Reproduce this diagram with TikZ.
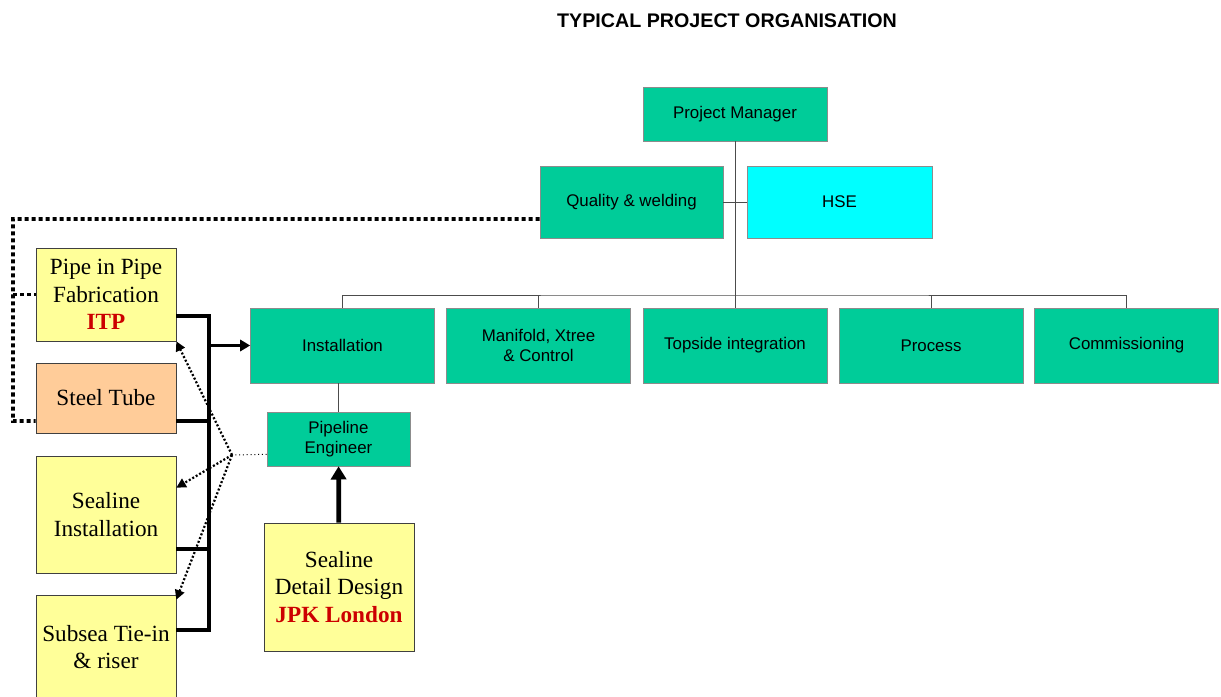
\documentclass[tikz,border=0pt]{standalone}
\usepackage{fontspec}
\setmainfont{Liberation Serif}
\setsansfont{Liberation Sans}
\usetikzlibrary{arrows.meta,calc}
\definecolor{orggreen}{HTML}{00CC99}
\definecolor{orgcyan}{HTML}{00FFFF}
\definecolor{subyellow}{HTML}{FFFF99}
\definecolor{tubeorange}{HTML}{FFCC99}
\definecolor{subred}{HTML}{CC0000}

\begin{document}
\begin{tikzpicture}[
          x=0.025cm, y=-0.025cm,
          org/.style={draw=black!45, fill=orggreen, align=center, inner sep=0pt,
                      font=\sffamily\fontsize{12}{14.4}\selectfont,
                      minimum width=4.6cm, minimum height=1.875cm},
          sub/.style={draw=black!75, fill=subyellow, align=center, inner sep=0pt,
                      font=\fontsize{16.5}{19.4}\selectfont, minimum width=3.5cm},
          tie/.style={draw=black!70, line width=0.7pt},
          feed/.style={draw=black, line width=2.8pt},
          qline/.style={draw=black, line width=2.8pt, dash pattern=on 0.1cm off 0.075cm},
          advice/.style={draw=black, line width=1.6pt, dash pattern=on 0.05cm off 0.05cm,
                         -{Triangle[length=0.24cm,width=0.24cm]}}
        ]
        \useasboundingbox (0,0) rectangle (1221,696);
        \node[font=\sffamily\bfseries\fontsize{14}{16}\selectfont] (title) at (727,21) {TYPICAL PROJECT ORGANISATION};
        \node[org, minimum height=1.35cm] (pm) at (735,114) {Project Manager};
        \node[org, minimum width=4.575cm, minimum height=1.8cm] (qual) at (631.5,202) {Quality \& welding};
        \node[org, fill=orgcyan, minimum width=4.625cm, minimum height=1.8cm] (hse) at (839.5,202) {HSE};
        \node[org] (inst) at (342.5,345.5) {Installation};
        \node[org] (mani) at (538.5,345.5) {Manifold, Xtree\\\& Control};
        \node[org] (tops) at (735,345.5) {Topside integration};
        \node[org] (proc) at (931,345.5) {Process};
        \node[org] (comm) at (1126.5,345.5) {Commissioning};
        \node[org, minimum width=3.575cm, minimum height=1.35cm] (pipeng) at (338.5,439) {Pipeline\\Engineer};
        \node[sub, minimum height=2.325cm] (pip) at (106,294.5) {Pipe in Pipe\\Fabrication\\{\bfseries\color{subred}ITP}};
        \node[sub, fill=tubeorange, minimum height=1.75cm] (steel) at (106,398) {Steel Tube};
        \node[sub, minimum height=2.925cm] (sealinst) at (106,514.5) {Sealine\\Installation};
        \node[sub, minimum height=2.6cm] (subsea) at (106,647) {Subsea Tie-in\\\& riser};
        \node[sub, minimum width=3.75cm, minimum height=3.2cm] (design) at (339,587) {Sealine\\Detail Design\\{\bfseries\color{subred}JPK London}};
        \coordinate (bus) at (735,295);
        \coordinate (bustop) at (209,316);
        \coordinate (busbot) at (209,630);
        \coordinate (qcorner) at (13,219);
        \coordinate (qbottom) at (13,421);
        \coordinate (hub) at (232,455);
        \draw[tie] (pm) -- (tops);
        \draw[tie] (qual) -- (hse);
        \draw[tie] (inst.north) |- (bus) -| (comm.north);
        \draw[tie] (mani.north) -- (mani.north |- bus);
        \draw[tie] (proc.north) -- (proc.north |- bus);
        \draw[tie] (inst.south -| pipeng.north) -- (pipeng.north);
        \draw[feed, line width=3.4pt, -{Triangle[length=0.33cm,width=0.38cm]}] (design) -- (pipeng);
        \draw[feed] (bustop -| pip.east) -- (bustop) -- (busbot) -- (busbot -| subsea.east);
        \draw[feed] ([yshift=0.3cm]steel.south east) -- ++(33,0);
        \draw[feed] ([yshift=0.6cm]sealinst.south east) -- ++(33,0);
        \draw[feed, -{Triangle[length=0.25cm,width=0.28cm]}] (bustop |- inst.west) -- (inst.west);
        \draw[qline] ([yshift=-0.425cm]qual.west) -- (qcorner) -- (qbottom) -- (qbottom -| steel.west);
        \draw[qline] (qcorner |- pip.west) -- (pip.west);
        \draw[black, line width=0.7pt, dotted] ([yshift=0.3cm]pipeng.south west) -- (hub);
        \draw[advice] (hub) -- (pip.south east);
        \draw[advice] (hub) -- ([yshift=-0.8cm]sealinst.north east);
        \draw[advice] (hub) -- ([yshift=-0.125cm]subsea.north east);
      \end{tikzpicture}
\end{document}
